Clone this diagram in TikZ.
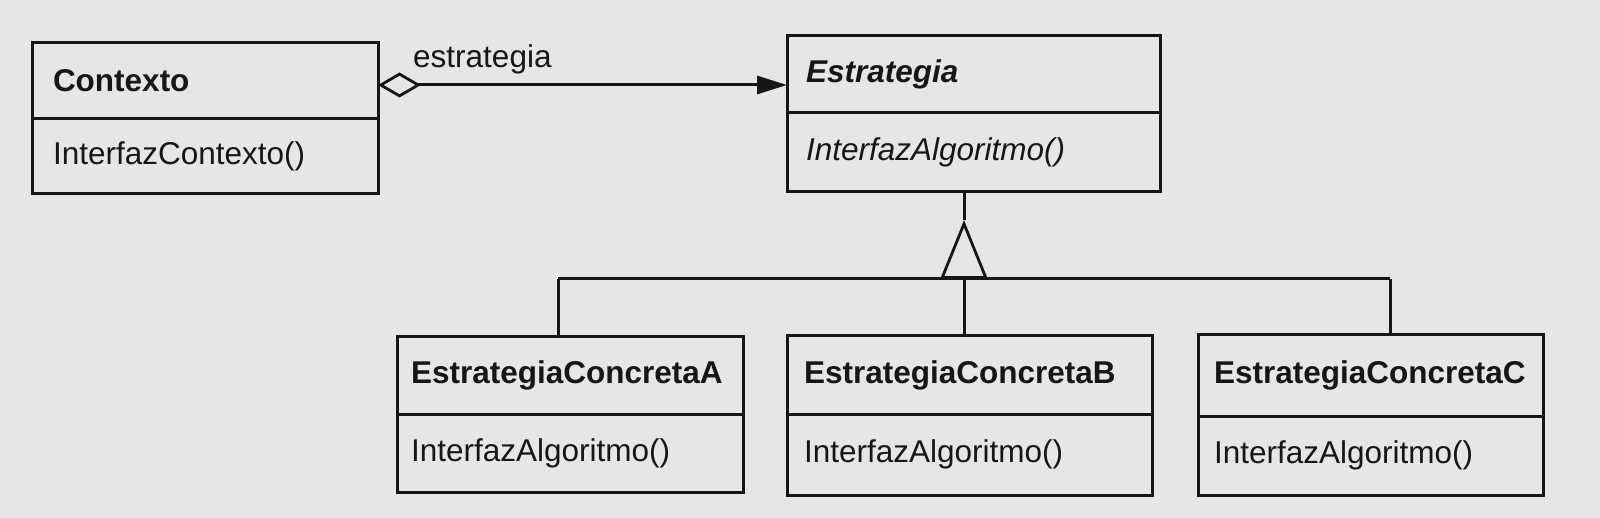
\documentclass[tikz,border=0pt]{standalone}
\usepackage{fontspec}
\setmainfont{Liberation Sans}
\usetikzlibrary{arrows.meta}
\definecolor{paper}{RGB}{230,230,228}
\definecolor{ink}{RGB}{22,22,22}
\begin{document}
\begin{tikzpicture}[x=1pt,y=-1pt,
  cls/.style={draw=ink, line width=3pt, inner ysep=0pt, outer sep=0pt, anchor=north west,
    align=left, text=ink, font=\fontsize{31.5}{36}\selectfont},
  conn/.style={draw=ink, line width=3pt},
  lbl/.style={text=ink, font=\fontsize{31.5}{36}\selectfont, inner sep=0pt}]
\fill[paper] (0,0) rectangle (1600,518);
\useasboundingbox (0,0) rectangle (1600,518);

% Contexto
\node[cls, minimum width=346pt, minimum height=76pt, text width=304pt, inner xsep=21pt] (ctxT) at (32,43) {\bfseries Contexto};
\node[cls, minimum width=346pt, minimum height=75pt, text width=304pt, inner xsep=21pt] (ctxM) at (ctxT.south west) {InterfazContexto()};

% Estrategia
\node[cls, minimum width=373pt, minimum height=77pt, text width=335pt, inner xsep=19pt] (estT) at (787,36) {\bfseries\itshape Estrategia};
\node[cls, minimum width=373pt, minimum height=79pt, text width=335pt, inner xsep=19pt] (estM) at (estT.south west) {\itshape InterfazAlgoritmo()};

% Concrete A
\node[cls, minimum width=346pt, minimum height=77pt, text width=318pt, inner xsep=14pt] (aT) at (397,337) {\bfseries EstrategiaConcretaA};
\node[cls, minimum width=346pt, minimum height=78pt, text width=318pt, inner xsep=14pt] (aM) at (aT.south west) {InterfazAlgoritmo()};

% Concrete B
\node[cls, minimum width=365pt, minimum height=78pt, text width=331pt, inner xsep=17pt] (bT) at (787,336) {\bfseries EstrategiaConcretaB};
\node[cls, minimum width=365pt, minimum height=81pt, text width=331pt, inner xsep=17pt] (bM) at (bT.south west) {InterfazAlgoritmo()};

% Concrete C
\node[cls, minimum width=345pt, minimum height=81pt, text width=313pt, inner xsep=16pt] (cT) at (1198,335) {\bfseries EstrategiaConcretaC};
\node[cls, minimum width=345pt, minimum height=79pt, text width=313pt, inner xsep=16pt] (cM) at (cT.south west) {InterfazAlgoritmo()};

% aggregation
\draw[conn, {Diamond[open, length=43pt, width=25pt, line width=2.8pt]}-{Triangle[length=30pt, width=18pt]}]
  ([yshift=-4pt]ctxT.east) -- ([yshift=-4pt]ctxT.east -| estT.west);
\node[lbl, anchor=base west] (lab) at (413,68) {estrategia};

% inheritance
\coordinate (apex) at (964,220);
\coordinate (jA) at (558,279);
\coordinate (jB) at (964,279);
\coordinate (jC) at (1390,279);
\draw[conn] (estM.south -| apex) -- (apex);
\draw[conn, -{Triangle[open, length=59pt, width=47pt, line width=2.8pt]}] (jB) -- (apex);
\draw[conn] (jA) -- (jC);
\draw[conn] (jA) -- (jA |- aT.north);
\draw[conn] (jB) -- (jB |- bT.north);
\draw[conn] (jC) -- (jC |- cT.north);
\end{tikzpicture}
\end{document}
